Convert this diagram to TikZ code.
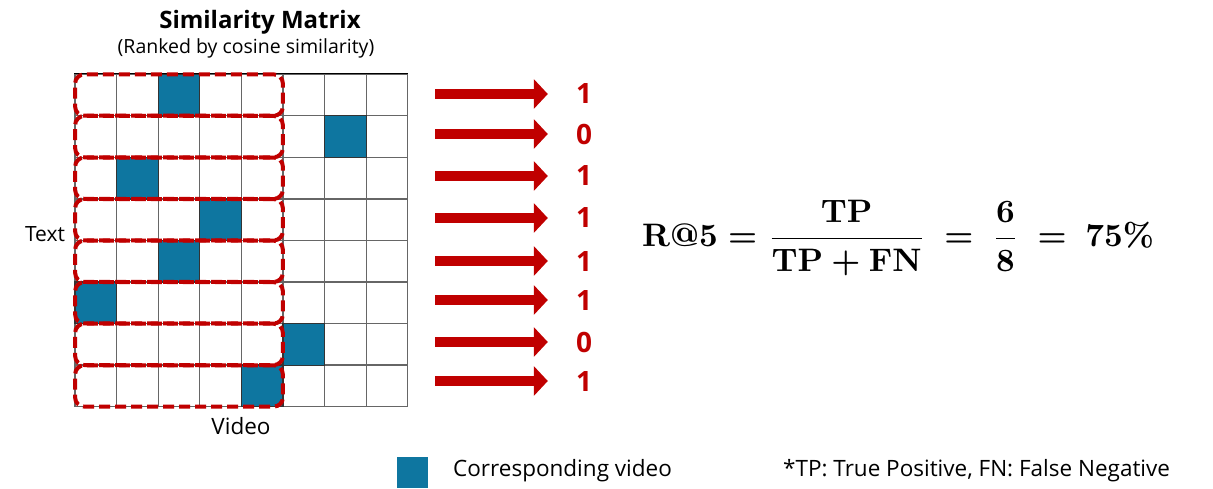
\documentclass[tikz,border=0pt]{standalone}
\usepackage{amsmath}
\usepackage{graphicx}
\usepackage[no-math]{fontspec}
\setmainfont{Open Sans}
\usetikzlibrary{arrows.meta,fit,positioning}
\definecolor{simblue}{HTML}{0E76A0}
\definecolor{simred}{HTML}{C00000}
\newcommand{\recallformula}{\scalebox{3.25}{\boldmath$\displaystyle\mathbf{R@5}=\frac{\mathbf{TP}}{\mathbf{TP}+\mathbf{FN}}\ =\ \frac{\mathbf{6}}{\mathbf{8}}\ =\ \mathbf{75\%}$}}

\begin{document}
\begin{tikzpicture}[x=1pt,y=-1pt]
\tikzstyle{cell}=[draw=black!60, line width=1.3pt, minimum size=41.6pt, inner sep=0pt, fill=white]
\tikzstyle{hit}=[cell, draw=black!80, fill=simblue]
\tikzstyle{rowbox}=[draw=simred, line width=4pt, dash pattern=on 11pt off 5pt, rounded corners=9pt, inner sep=-0.8pt]
\tikzstyle{bigarrow}=[draw=simred, line width=10pt, -{Triangle[length=14pt,width=29pt]}, shorten >=28pt]
\tikzstyle{score}=[text=simred, font=\fontsize{28}{30}\selectfont\bfseries, inner sep=0pt]
\tikzstyle{lbl}=[font=\fontsize{22.5}{26}\selectfont, inner sep=0pt]
\useasboundingbox (0,0) rectangle (1213,488);

\node[font=\fontsize{24}{28}\selectfont\bfseries] (title) at (260,22) {Similarity Matrix};
\node[font=\fontsize{19.5}{22}\selectfont] (sub) at (246,48) {(Ranked by cosine similarity)};

\foreach \r in {0,...,7}
  \foreach \c in {0,...,7}
    \node[cell] (c-\r-\c) at ({75+41.6*(\c+0.5)},{74.3+41.55*(\r+0.5)}) {};
\draw[black, line width=1.3pt] (c-0-0.north west) -- (c-0-7.north east);

\foreach \r/\h in {0/2,1/6,2/1,3/3,4/2,5/0,6/5,7/4}
  \node[hit] (h\r) at (c-\r-\h) {};

\foreach \r in {0,...,7}
  \node[rowbox, fit=(c-\r-0)(c-\r-4)] (box\r) {};

\node[lbl, font=\fontsize{21}{24}\selectfont] (text) at (45,234) {Text};
\node[lbl] (video) at (241,426) {Video};

\foreach \r/\y/\v in {0/94/1,1/134/0,2/176/1,3/218/1,4/261/1,5/300/1,6/342/0,7/381/1}{
  \coordinate (a\r) at (435,\y);
  \node[score] (n\r) at (584,\y) {\v};
  \draw[bigarrow] (a\r) -- (n\r.west);
}

\node[inner sep=0pt] (eq) at (898,238) {\recallformula};

\node[fill=simblue, minimum size=31pt, inner sep=0pt] (key) at (412.5,472) {};
\node[lbl, anchor=west] (keytxt) at (453,471) {Corresponding video};
\node[lbl, anchor=west] (note) at (783,471) {*TP: True Positive, FN: False Negative};
\end{tikzpicture}
\end{document}
